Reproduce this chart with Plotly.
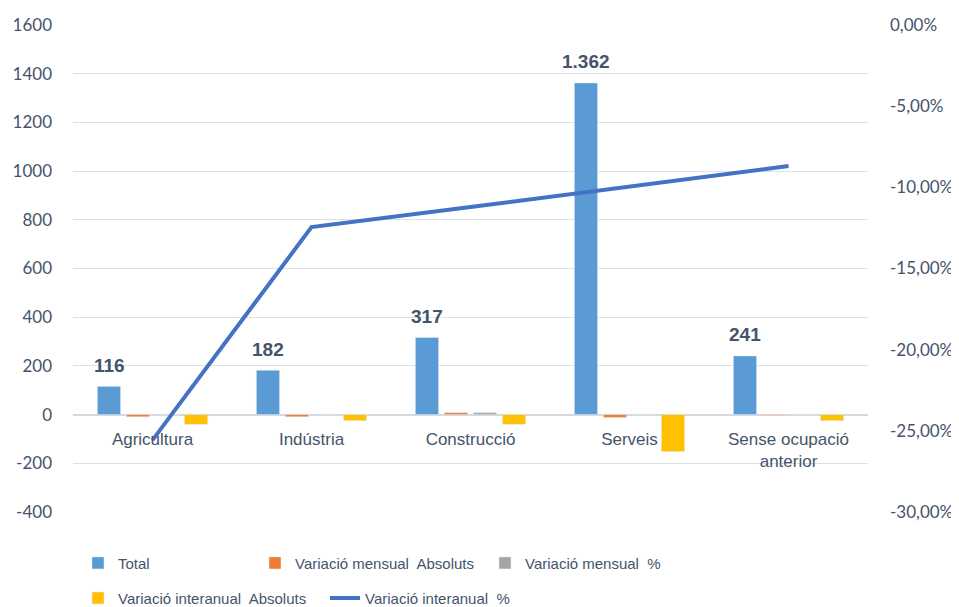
import plotly.graph_objects as go

categories = ["Agricultura", "Indústria", "Construcció", "Serveis", "Sense ocupació<br>anterior"]
total = [116, 182, 317, 1362, 241]
total_labels = ["116", "182", "317", "1.362", "241"]
var_mensual_abs = [-9, -9, 8, -12, -3]
var_mensual_pct = [-1, -1, 8, -1, -1]
var_interanual_abs = [-40, -25, -40, -152, -25]
var_interanual_pct = [-0.2557, -0.1245, -0.1121, -0.0998, -0.0869]

left_ticks = [-400, -200, 0, 200, 400, 600, 800, 1000, 1200, 1400, 1600]
left_tick_labels = ["-400", "-200", "0", "200", "400", "600", "800", "1000", "1200", "1400", "1600"]
right_ticks = [-0.30, -0.25, -0.20, -0.15, -0.10, -0.05, 0.0]
right_tick_labels = ["-30,00%", "-25,00%", "-20,00%", "-15,00%", "-10,00%", "-5,00%", "0,00%"]

FONT = "Liberation Sans, Arial"
TICKFONT = "Lato, Open Sans, sans-serif"
TXT = "#44546A"
GRID = "#DDE1E7"

# page body has an 8px margin: figure is sized/margined so the plot area lands
# at x 73..868, y 25..512 of the 959x607 window
W, H = 951, 599
ML, MR, MT, MB = 65, 91, 17, 95
PW = W - ML - MR


def lx(px):
    # legend x in paper fraction from a window pixel position
    return (px - 8 - ML) / PW


fig = go.Figure()
fig.add_trace(go.Bar(x=categories, y=total, name="Total", marker_color="#5B9BD5",
                     legend="legend", showlegend=True))
fig.add_trace(go.Bar(x=categories, y=var_mensual_abs, name="Variació mensual  Absoluts",
                     marker_color="#ED7D31", legend="legend3", showlegend=True))
fig.add_trace(go.Bar(x=categories, y=var_mensual_pct, name="Variació mensual  %",
                     marker_color="#A5A5A5", legend="legend4", showlegend=True))
fig.add_trace(go.Bar(x=categories, y=var_interanual_abs, name="Variació interanual  Absoluts",
                     marker_color="#FFC000", legend="legend2", showlegend=True))
fig.add_trace(go.Scatter(x=categories, y=var_interanual_pct, name="Variació interanual  %", yaxis="y2",
                         mode="lines", line=dict(color="#4472C4", width=4),
                         legend="legend5", showlegend=True))

# data labels above the Total bars
for c, v, t in zip(categories, total, total_labels):
    fig.add_annotation(x=c, y=v, xref="x", yref="y", text=f"<b>{t}</b>", showarrow=False,
                       yanchor="middle", yshift=21, xshift=-43.5,
                       font=dict(family=FONT, size=19, color=TXT))

legend_common = dict(orientation="h", xanchor="left", yanchor="middle", traceorder="normal",
                     font=dict(family=FONT, size=15, color=TXT), bgcolor="rgba(0,0,0,0)")
row1 = -0.105
row2 = -0.177

fig.update_layout(
    width=W, height=H,
    showlegend=True,
    margin=dict(l=ML, r=MR, t=MT, b=MB, autoexpand=False),
    plot_bgcolor="white", paper_bgcolor="white",
    barmode="group", bargap=0.27, bargroupgap=0.2,
    font=dict(family=FONT, size=16, color=TXT),
    xaxis=dict(anchor="free", position=0.2, showline=False, ticks="", showgrid=False,
               automargin=False, ticklabelstandoff=12,
               tickfont=dict(family=FONT, size=17, color=TXT)),
    yaxis=dict(range=[-400, 1600], tickvals=left_ticks, ticktext=left_tick_labels,
               showgrid=True, gridcolor=GRID, gridwidth=1,
               zeroline=True, zerolinecolor="#D5D9DF", zerolinewidth=2, automargin=False,
               tickfont=dict(family=TICKFONT, size=17, color=TXT), ticklabelstandoff=20),
    yaxis2=dict(range=[-0.30, 0], tickvals=right_ticks, ticktext=right_tick_labels,
                overlaying="y", side="right", showgrid=False, zeroline=False, automargin=False,
                tickfont=dict(family=TICKFONT, size=17, color=TXT), ticklabelstandoff=21),
    legend=dict(x=lx(78), y=row1, **legend_common),
    legend3=dict(x=lx(255), y=row1, **legend_common),
    legend4=dict(x=lx(485), y=row1, **legend_common),
    legend2=dict(x=lx(78), y=row2, **legend_common),
    legend5=dict(x=lx(325), y=row2, **legend_common),
)

fig.write_html("out.html")
